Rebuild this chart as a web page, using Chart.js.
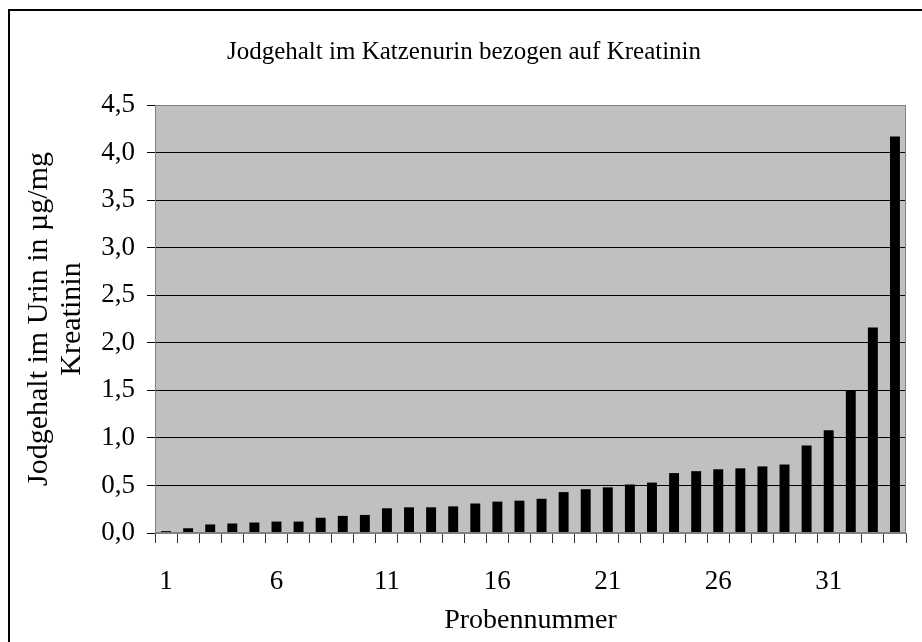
<!DOCTYPE html>
<html>
<head>
<meta charset="utf-8">
<script src="https://cdn.jsdelivr.net/npm/chart.js@4"></script>
<style>
html,body{margin:0;padding:0;background:#fff;}
#wrap{width:922px;height:642px;position:relative;}
</style>
</head>
<body>
<div id="wrap"><canvas id="c" width="922" height="642"></canvas></div>
<script>
const chartTitle = 'Jodgehalt im Katzenurin bezogen auf Kreatinin';
const xAxisTitle = 'Probennummer';
const yAxisTitle = ['Jodgehalt im Urin in µg/mg', 'Kreatinin'];
const categories = ['1','2','3','4','5','6','7','8','9','10','11','12','13','14','15','16','17','18','19','20','21','22','23','24','25','26','27','28','29','30','31','32','33','34'];
const shownXLabels = ['1','6','11','16','21','26','31'];
const values = [0.02,0.05,0.09,0.10,0.11,0.12,0.12,0.16,0.18,0.19,0.26,0.27,0.27,0.28,0.31,0.33,0.34,0.36,0.43,0.46,0.48,0.51,0.53,0.63,0.65,0.67,0.68,0.70,0.72,0.92,1.08,1.50,2.16,4.17];
const yMin = 0, yMax = 4.5, yStep = 0.5;

const FONT = "'Liberation Serif', 'Times New Roman', serif";

const decor = {
  id: 'decor',
  beforeDraw(chart) {
    const {ctx, chartArea: a} = chart;
    ctx.save();
    ctx.fillStyle = '#fff';
    ctx.fillRect(0, 0, chart.width, chart.height);
    ctx.fillStyle = '#C0C0C0';
    ctx.fillRect(a.left, a.top, a.right - a.left, a.bottom - a.top);
    ctx.restore();
  },
  afterDraw(chart) {
    const {ctx, chartArea: a} = chart;
    ctx.save();
    ctx.strokeStyle = '#808080';
    ctx.lineWidth = 1;
    ctx.strokeRect(Math.round(a.left) + 0.5, Math.round(a.top) + 0.5, Math.round(a.right - a.left) - 1, Math.round(a.bottom - a.top) - 1);
    ctx.strokeStyle = '#000';
    ctx.lineWidth = 2;
    ctx.strokeRect(9, 10, 2000, 2000);
    ctx.restore();
  }
};

new Chart(document.getElementById('c'), {
  type: 'bar',
  data: {
    labels: categories,
    datasets: [{
      data: values,
      backgroundColor: '#000',
      borderWidth: 0,
      barPercentage: 0.45,
      categoryPercentage: 1.0
    }]
  },
  options: {
    responsive: false,
    animation: false,
    devicePixelRatio: 1,
    layout: { padding: { left: 22, right: 16, top: 0, bottom: 0 } },
    plugins: {
      legend: { display: false },
      tooltip: { enabled: false },
      title: {
        display: true,
        text: chartTitle,
        color: '#000',
        font: { family: FONT, size: 25, weight: 'normal' },
        padding: { top: 37, bottom: 38 }
      }
    },
    scales: {
      x: {
        offset: true,
        grid: {
          offset: true,
          drawOnChartArea: false,
          drawTicks: true,
          tickLength: 10,
          tickColor: '#333',
          color: '#333'
        },
        border: { display: true, color: '#808080', width: 1 },
        ticks: {
          autoSkip: false,
          maxRotation: 0,
          color: '#000',
          padding: 23,
          font: { family: FONT, size: 27 },
          callback: function(v, i) {
            const l = categories[i];
            return shownXLabels.includes(l) ? l : '';
          }
        },
        title: {
          display: true,
          text: xAxisTitle,
          color: '#000',
          font: { family: FONT, size: 28 },
          padding: { top: 0, bottom: 5 }
        },
        afterFit(scale) { scale.height = 109; }
      },
      y: {
        min: yMin,
        max: yMax,
        ticks: {
          stepSize: yStep,
          color: '#000',
          padding: 12,
          font: { family: FONT, size: 27 },
          callback: v => v.toFixed(1).replace('.', ',')
        },
        grid: {
          color: '#000',
          lineWidth: 1,
          tickLength: 8,
          tickColor: '#000'
        },
        border: { display: true, color: '#808080', width: 1 },
        title: {
          display: true,
          text: yAxisTitle,
          color: '#000',
          font: { family: FONT, size: 30, lineHeight: 1.1 },
          padding: { top: 1, bottom: 0 }
        },
        afterFit(scale) { scale.width = 133; }
      }
    }
  },
  plugins: [decor]
});
</script>
</body>
</html>
